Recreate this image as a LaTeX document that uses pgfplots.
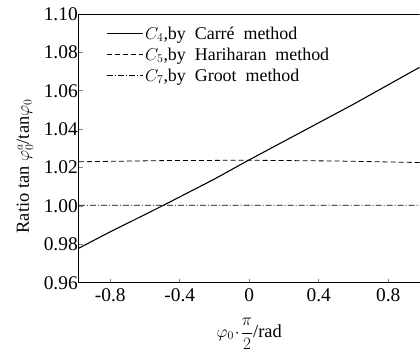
\documentclass[border=0pt]{standalone}
\usepackage{fontspec}
\setmainfont{Liberation Serif}
\usepackage{pgfplots}
\pgfplotsset{compat=1.18}
\begin{document}
\begin{tikzpicture}
\begin{axis}[
  scale only axis,
  width=341bp, height=269bp,
  xmin=-0.98, xmax=0.98,
  ymin=0.96, ymax=1.10,
  axis x line*=bottom, axis y line*=left,
  axis line style={line width=0.9pt, -},
  tick align=inside,
  major tick length=4bp,
  tick style={line width=0.8pt},
  xtick={-0.8,-0.4,0,0.4,0.8},
  ytick={0.96,0.98,1.00,1.02,1.04,1.06,1.08,1.10},
  yticklabel style={/pgf/number format/fixed,/pgf/number format/fixed zerofill,/pgf/number format/precision=2, inner xsep=1bp},
  xticklabel style={yshift=-2bp},
  /pgf/number format/assume math mode=true,
  tick label style={font=\fontsize{19.5}{21}\selectfont},
  xlabel={$\varphi_0\!\cdot\!\displaystyle\frac{\pi}{2}$/rad},
  ylabel={Ratio tan $\varphi^{a}_{0}$/tan$\varphi_0$},
  label style={font=\fontsize{18.5}{20}\selectfont},
  xlabel style={yshift=-10bp},
  ylabel style={yshift=6bp, xshift=-18bp},
  legend style={draw=none, fill=none, at={(0.08,0.96)}, anchor=north west,
    font=\fontsize{18}{20}\selectfont, row sep=3bp, inner sep=0pt},
  legend cell align=left,
  legend image post style={xscale=2.1},
]
\addplot[black, line width=1.1pt] coordinates {
 (-0.98,0.978) (-0.8,0.9865) (-0.6,0.9955) (-0.49,1.0005) (-0.2,1.0140) (0,1.0240)
 (0.3,1.0385) (0.6,1.0530) (0.98,1.0722)};
\addlegendentry{$C_4$,by\ \ Carré\ \ method}
\addplot[black, line width=0.8pt, dash pattern=on 5bp off 3bp] coordinates {
 (-0.98,1.0230) (-0.5,1.0236) (0,1.0238) (0.5,1.0234) (0.98,1.0226)};
\addlegendentry{$C_5$,by\ \ Hariharan\ \ method}
\addplot[black, line width=0.8pt, dash pattern=on 6bp off 2bp on 1bp off 2bp] coordinates {
 (-0.98,1.0003) (0,1.0004) (0.98,1.0003)};
\addlegendentry{$C_7$,by\ \ Groot\ \ method}
\draw[line width=0.9pt] (rel axis cs:0,1) -- (rel axis cs:1,1);
\end{axis}
\useasboundingbox (-79bp,-69bp) rectangle (341bp,283bp);
\end{tikzpicture}
\end{document}
